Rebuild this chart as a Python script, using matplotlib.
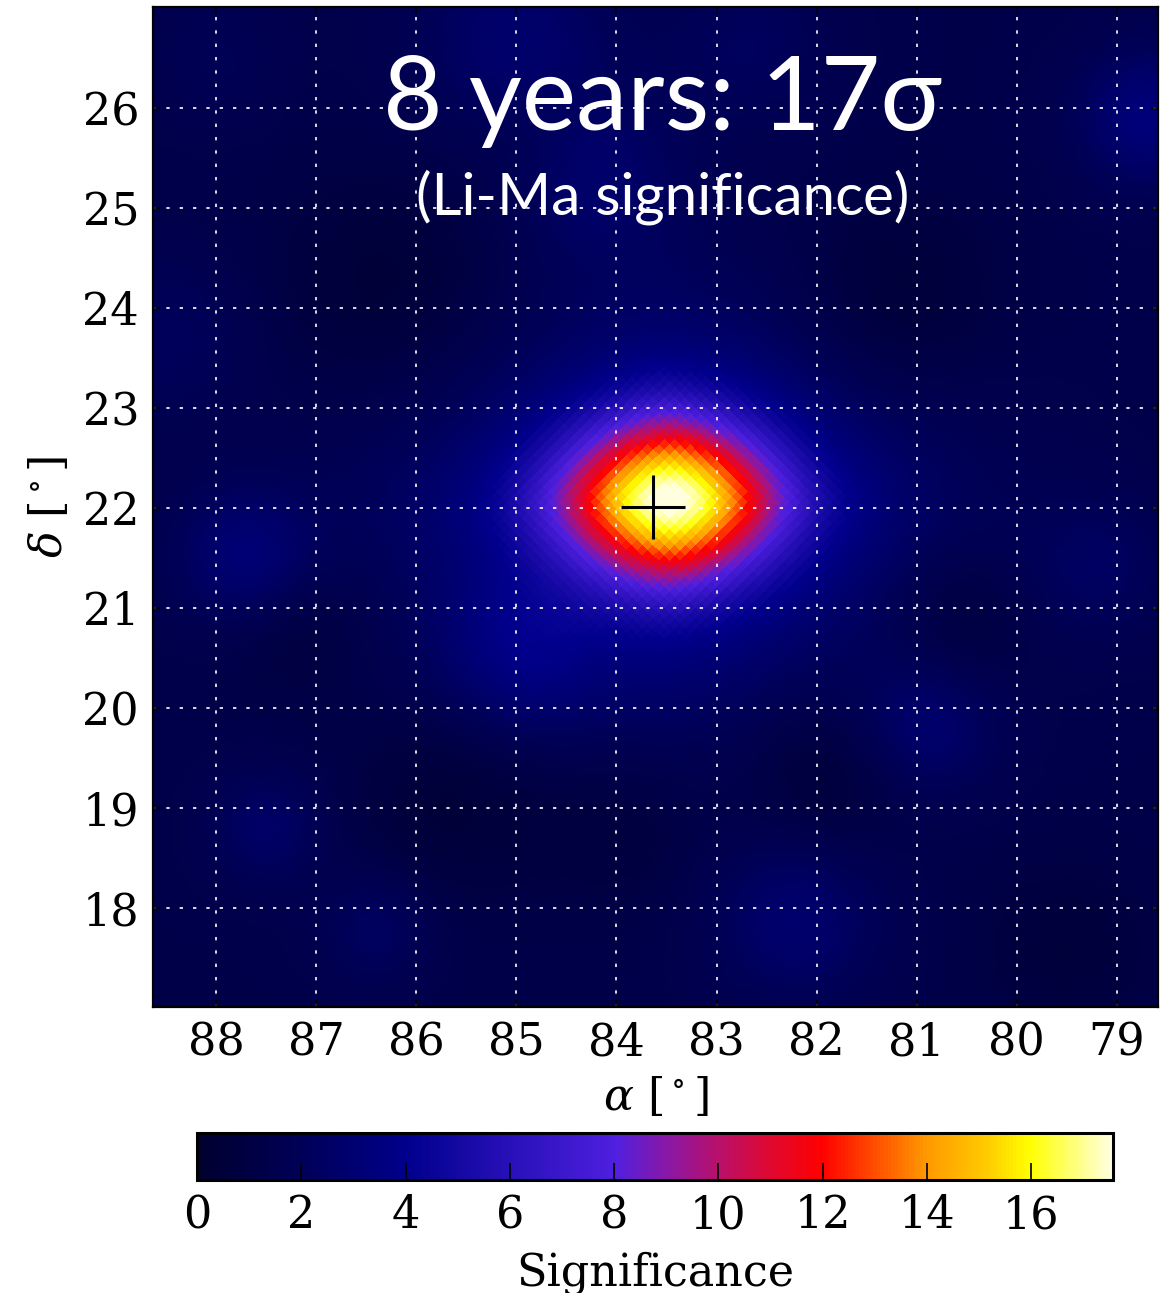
import numpy as np
import matplotlib
matplotlib.use('Agg')
import matplotlib.pyplot as plt
from matplotlib.colors import LinearSegmentedColormap

plt.rcParams['font.family'] = 'DejaVu Serif'
plt.rcParams['mathtext.fontset'] = 'dejavuserif'

# map window (deg), centred on the Crab
ra_lim = [88.63, 78.59]
dec_lim = [17.01, 27.01]
crab_ra, crab_dec = 83.63, 22.01

# source model: core + halo (ra, dec, amp, sig_ra, sig_dec)
core = [83.47, 22.08, 13.2, 0.76, 0.56]
halo = [83.50, 21.98, 3.4, 1.75, 1.35]
bg_level = 1.3

# background fluctuations: position, amplitude, width
blob_ra = [85.0, 84.2, 82.7, 78.7, 88.0, 87.7, 85.0, 87.5, 86.4, 80.9, 82.2, 79.2, 88.5,
           81.2, 86.3, 85.6, 81.9, 87.2, 83.9, 80.6, 84.8, 79.5]
blob_dec = [26.6, 25.3, 26.6, 25.9, 26.5, 21.5, 20.5, 18.8, 17.8, 19.8, 17.9, 21.4, 23.7,
            24.1, 24.2, 19.1, 19.3, 20.8, 18.8, 20.9, 25.9, 17.6]
blob_amp = [1.6, 1.3, 0.9, 2.0, 0.6, 1.8, 1.6, 1.3, 1.1, 1.5, 1.6, 1.0, 0.9,
            -0.9, -0.9, -0.9, -0.9, -0.7, -0.6, -0.8, -0.5, -0.7]
blob_sig = [0.7, 0.6, 0.6, 0.5, 0.5, 0.5, 0.6, 0.4, 0.4, 0.5, 0.6, 0.5, 0.6,
            0.7, 0.8, 0.7, 0.6, 0.5, 0.6, 0.5, 0.5, 0.6]

pix = 0.105  # diamond pixel size (deg)

cbar_ticks = [0, 2, 4, 6, 8, 10, 12, 14, 16]
vmax = 17.57

# colour stops (significance, colour)
cm_vals = [0, 2, 4, 6, 8, 9, 10, 11, 12, 14, 15.2, 16, vmax]
cm_cols = ['#000030', '#000058', '#00008c', '#2810b8', '#4f1fdf', '#8818a8', '#b8106a',
           '#e00830', '#ff0000', '#ff9800', '#ffcc00', '#ffff00', '#ffffe0']


def bump(x, y, x0, y0, a, sx, sy, p=2.0):
    r = np.abs((x - x0) / sx) ** p + np.abs((y - y0) / sy) ** p
    return a * np.exp(-0.5 * r ** (2.0 / p))


def sig_map(x, y):
    v = bg_level + bump(x, y, *core, p=1.7) + bump(x, y, *halo, p=1.5)
    for r, d, a, s in zip(blob_ra, blob_dec, blob_amp, blob_sig):
        v = v + bump(x, y, r, d, a, s, s)
    return np.clip(v, 0, vmax)


n = 1000
xs = np.linspace(ra_lim[0], ra_lim[1], n)
ys = np.linspace(dec_lim[0], dec_lim[1], n)
X, Y = np.meshgrid(xs, ys)
# snap onto a diamond (healpix-like) pixelisation
U = np.round((X + Y) / pix)
V = np.round((X - Y) / pix)
Xq = (U + V) * pix / 2
Yq = (U - V) * pix / 2
Z = sig_map(Xq, Yq)

cmap = LinearSegmentedColormap.from_list(
    'sig', list(zip(np.array(cm_vals) / vmax, cm_cols)))

fig = plt.figure(figsize=(11.68, 12.93), dpi=100)
ax = fig.add_axes([0.131, 0.2212, 0.8604, 0.7734])
im = ax.imshow(Z, origin='lower', extent=[ra_lim[0], ra_lim[1], dec_lim[0], dec_lim[1]],
               cmap=cmap, vmin=0, vmax=vmax, aspect='auto', interpolation='nearest')
ax.set_xlim(ra_lim)
ax.set_ylim(dec_lim)
ax.set_xticks(range(88, 78, -1))
ax.set_yticks(range(18, 27))
ax.grid(True, color='white', linestyle=(0, (2, 6)), linewidth=1.2)
ax.tick_params(direction='in', length=5, width=1.2, top=True, right=True,
               labelsize=32, pad=10)
for s in ax.spines.values():
    s.set_linewidth(1.6)

ax.plot([crab_ra], [crab_dec], marker='+', color='black', markersize=46, mew=2.2)

ax.set_xlabel(r'$\alpha\ [^\circ]$', fontsize=32, labelpad=8)
ax.set_ylabel(r'$\delta\ [^\circ]$', fontsize=32, labelpad=8)

ax.text(0.507, 0.877, '8 years: 17σ', transform=ax.transAxes, ha='center', va='baseline',
        color='white', fontsize=74, family=['Lato', 'DejaVu Sans'])
ax.text(0.507, 0.792, '(Li-Ma significance)', transform=ax.transAxes, ha='center',
        va='baseline', color='white', fontsize=42, family=['Lato', 'DejaVu Sans'])

cax = fig.add_axes([0.1687, 0.0874, 0.7842, 0.0363])
cb = fig.colorbar(im, cax=cax, orientation='horizontal', ticks=cbar_ticks)
cb.outline.set_linewidth(2.2)
cax.tick_params(direction='in', length=12, width=1.2, labelsize=32, pad=10)
cb.set_label('Significance', fontsize=32, labelpad=10)

fig.savefig('out.png', dpi=100)
